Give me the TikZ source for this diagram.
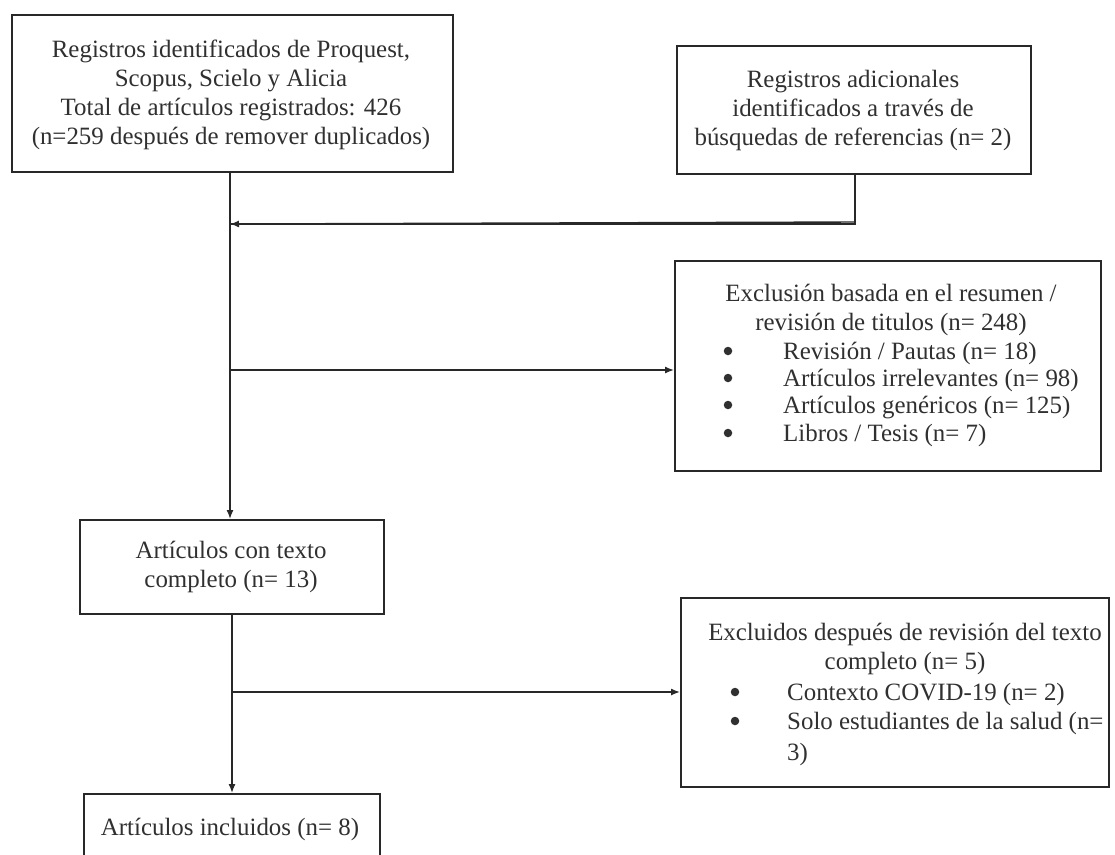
\documentclass[tikz,border=0pt]{standalone}
\usepackage{fontspec}
\setmainfont{Liberation Serif}
\usetikzlibrary{arrows.meta}
\definecolor{ink}{RGB}{48,48,48}
\definecolor{linec}{RGB}{40,40,40}
\begin{document}
\begin{tikzpicture}[x=1pt,y=-1pt,
  box/.style={draw=linec, line width=1.6pt, rectangle, inner sep=0pt, anchor=north west},
  txt/.style={text=ink, inner sep=0pt, align=center, font=\fontsize{24.9}{29}\selectfont},
  btxt/.style={text=ink, inner sep=0pt, anchor=base west, font=\fontsize{24.9}{29}\selectfont},
  dot/.style={circle, fill=ink, inner sep=0pt, minimum size=8.5pt},
  conn/.style={draw=linec, line width=1.4pt},
  arr/.style={conn, -{Latex[length=9pt,width=7pt]}}]
\useasboundingbox[fill=white] (0,0) rectangle (1115,854);

% boxes
\node[box, minimum width=441pt, minimum height=157pt] (b1) at (11,14) {};
\node[box, minimum width=354pt, minimum height=128pt] (b2) at (676,45) {};
\node[box, minimum width=426pt, minimum height=210pt] (b3) at (674,260) {};
\node[box, minimum width=304pt, minimum height=94pt] (b4) at (79,519) {};
\node[box, minimum width=428pt, minimum height=189pt] (b5) at (680,597) {};
\node[box, minimum width=296pt, minimum height=80pt] (b6) at (83,793) {};

% texts
\node[txt] (t1) at (231,95) {Registros identificados de Proquest,\\Scopus, Scielo y Alicia\\Total de artículos registrados: 426\\(n=259 después de remover duplicados)};
\node[txt] (t2) at (853,111) {Registros adicionales\\identificados a través de\\búsquedas de referencias (n= 2)};
\node[txt] (t3) at (891,310) {Exclusión basada en el resumen /\\revisión de titulos (n= 248)};
\node[dot] (d31) at (728,351) {};
\node[btxt] (l31) at (783,359) {Revisión / Pautas (n= 18)};
\node[dot] (d32) at (728,378) {};
\node[btxt] (l32) at (783,386) {Artículos irrelevantes (n= 98)};
\node[dot] (d33) at (728,405) {};
\node[btxt] (l33) at (783,413) {Artículos genéricos (n= 125)};
\node[dot] (d34) at (728,433) {};
\node[btxt] (l34) at (783,441) {Libros / Tesis (n= 7)};
\node[txt] (t4) at (231,567) {Artículos con texto\\completo (n= 13)};
\node[txt] (t5) at (905,649) {Excluidos después de revisión del texto\\completo (n= 5)};
\node[dot] (d51) at (735,692) {};
\node[btxt] (l51) at (787,700) {Contexto COVID-19 (n= 2)};
\node[dot] (d52) at (735,721) {};
\node[btxt] (l52) at (787,729) {Solo estudiantes de la salud (n=};
\node[btxt] (l53) at (787,760) {3)};
\node[btxt, anchor=base] (t6) at (230,835) {Artículos incluidos (n= 8)};

% connectors
\coordinate (j2) at (230,224);
\coordinate (j3) at (230,370);
\coordinate (j5) at (232,692);
\draw[arr] (b1.south -| j2) -- (b4.north -| j2);
\draw[conn] (b2.south -| 855,0) |- (j2);
\draw[arr] (855,222) -- (j2);
\draw[arr] (j3) -- (b3.west |- j3);
\draw[arr] (b4.south -| 232,0) -- (b6.north -| 232,0);
\draw[arr] (j5) -- (b5.west |- j5);
\end{tikzpicture}
\end{document}
